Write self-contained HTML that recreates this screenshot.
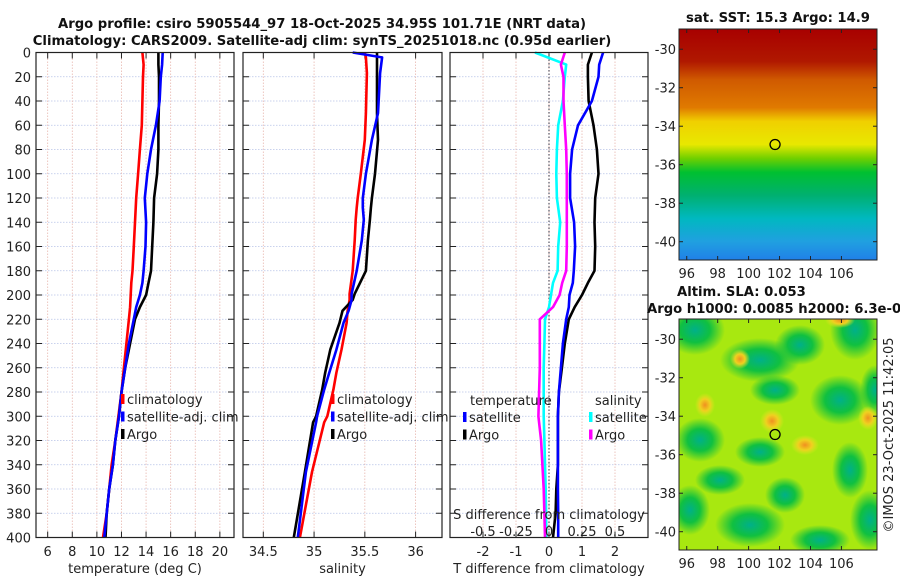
<!DOCTYPE html>
<html><head><meta charset="utf-8">
<style>
body{margin:0;background:#fff;}
svg{display:block;font-family:"DejaVu Sans","Liberation Sans",sans-serif;}
</style></head>
<body>
<svg id="c" width="900" height="580" xmlns="http://www.w3.org/2000/svg">
<defs>
<linearGradient id="sstg" x1="0" y1="0" x2="0" y2="1">
<stop offset="0" stop-color="#a80000"/><stop offset="0.14" stop-color="#b01800"/>
<stop offset="0.22" stop-color="#d05a00"/><stop offset="0.34" stop-color="#e07a00"/>
<stop offset="0.40" stop-color="#f0d000"/><stop offset="0.50" stop-color="#e8e800"/>
<stop offset="0.56" stop-color="#70d000"/><stop offset="0.62" stop-color="#00c030"/>
<stop offset="0.72" stop-color="#00b070"/><stop offset="0.82" stop-color="#00b8c0"/>
<stop offset="0.92" stop-color="#20a0e0"/><stop offset="1" stop-color="#2080e8"/>
</linearGradient>
<radialGradient id="gb"><stop offset="0" stop-color="#00b08a"/><stop offset="0.5" stop-color="#10c040"/><stop offset="1" stop-color="#10c040" stop-opacity="0"/></radialGradient>
<radialGradient id="ob"><stop offset="0" stop-color="#f09020"/><stop offset="0.5" stop-color="#f0d020"/><stop offset="1" stop-color="#e0e820" stop-opacity="0"/></radialGradient>
</defs>
<g id="root"></g>
</svg>
<script>
// ---- data ----
const depths = [0,10,20,40,60,80,100,120,140,160,180,190,200,210,220,240,260,280,300,320,340,360,380,400];
const tempClim = [13.7,13.8,13.75,13.7,13.65,13.5,13.35,13.2,13.1,13.0,12.9,12.8,12.75,12.7,12.6,12.4,12.2,12.0,11.75,11.5,11.2,11.0,10.8,10.5];
const tempSat  = [15.35,15.3,15.2,15.1,14.8,14.4,14.1,13.9,14.0,13.95,13.8,13.7,13.5,13.2,13.0,12.6,12.3,12.0,11.8,11.5,11.3,11.0,10.8,10.6];
const tempArgo = [15.0,15.0,15.05,15.05,15.0,15.0,14.9,14.65,14.6,14.5,14.4,14.2,14.0,13.5,13.1,12.7,12.3,12.0,11.8,11.5,11.3,11.0,10.8,10.7];
const salDepths = [0,4,17,50,72,100,120,128,138,155,180,199,204,213,223,245,264,278,300,305,346,400];
const salClim = [35.50,35.51,35.52,35.51,35.50,35.46,35.43,35.42,35.41,35.40,35.38,35.35,35.35,35.33,35.32,35.27,35.22,35.19,35.13,35.10,34.98,34.86];
const salSat  = [35.38,35.67,35.65,35.63,35.57,35.51,35.48,35.48,35.49,35.47,35.42,35.37,35.37,35.34,35.29,35.22,35.15,35.10,35.03,35.02,34.92,34.84];
const salArgo = [35.62,35.62,35.62,35.62,35.63,35.60,35.57,35.56,35.55,35.53,35.51,35.40,35.38,35.28,35.25,35.16,35.11,35.08,35.02,34.99,34.91,34.80];
const tdSat  = [1.64,1.52,1.5,1.3,0.88,0.70,0.64,0.64,0.76,0.79,0.75,0.72,0.62,0.60,0.52,0.42,0.36,0.30,0.27,0.27,0.27,0.27,0.28,0.28];
const tdArgo = [1.30,1.18,1.18,1.20,1.35,1.45,1.50,1.40,1.38,1.40,1.38,1.18,1.00,0.78,0.60,0.48,0.39,0.30,0.27,0.27,0.27,0.22,0.20,0.12];
const sdSat  = [-0.106,0.13,0.12,0.105,0.07,0.06,0.055,0.06,0.085,0.07,0.065,0.03,0.015,0.0,-0.03,-0.035,-0.04,-0.04,-0.04,-0.035,-0.03,-0.025,-0.022,-0.02];
const sdArgo = [0.12,0.09,0.11,0.11,0.12,0.13,0.135,0.135,0.135,0.135,0.13,0.10,0.08,0.03,-0.07,-0.07,-0.07,-0.075,-0.08,-0.06,-0.05,-0.04,-0.035,-0.03];
const yTicks = [0,20,40,60,80,100,120,140,160,180,200,220,240,260,280,300,320,340,360,380,400];
const tTicks = [6,8,10,12,14,16,18,20];
const sTicks = [34.5,35,35.5,36];
const dTicks = [-2,-1,0,1,2];
const sdTicks = [-0.5,-0.25,0,0.25,0.5];
const sdTickLabels = ['-0.5','-0.25','0','0.25','0.5'];
const latTicks = [-30,-32,-34,-36,-38,-40];
const lonTicks = [96,98,100,102,104,106];

const NS='http://www.w3.org/2000/svg';
const root=document.getElementById('root');
function el(tag,attrs,parent,text){const e=document.createElementNS(NS,tag);for(const k in attrs)e.setAttribute(k,attrs[k]);if(text!==undefined)e.textContent=text;(parent||root).appendChild(e);return e;}

const Y0=52.5, Y1=537.5;
const yS=d=>Y0+(d/400)*(Y1-Y0);
function lin(d0,d1,r0,r1){return v=>r0+(v-d0)/(d1-d0)*(r1-r0);}

function panel(name,x0,x1,xs,xt,xtl,labelY,xlabel){
  const g=el('g',{});
  
  
  el('rect',{x:x0,y:Y0,width:x1-x0,height:Y1-Y0,fill:'#fff'},g);
  yTicks.forEach(t=>{el('line',{x1:x0,x2:x1,y1:yS(t),y2:yS(t),stroke:'#b8c4e8','stroke-width':0.8,'stroke-dasharray':'1.5,1.5'},g);
    el('line',{x1:x0,x2:x0+6,y1:yS(t),y2:yS(t),stroke:'#222'},g);el('line',{x1:x1-6,x2:x1,y1:yS(t),y2:yS(t),stroke:'#222'},g);
    if(labelY){const tl=el('text',{x:x0-5,y:yS(t)+5,'text-anchor':'end','font-size':13,fill:'#222'},g,String(t));}});
  xt.forEach((t,i)=>{const x=xs(t);el('line',{x1:x,x2:x,y1:Y0,y2:Y1,stroke:'#e8b8b0','stroke-width':0.8,'stroke-dasharray':'1.5,1.5'},g);
    el('line',{x1:x,x2:x,y1:Y0,y2:Y0+6,stroke:'#222'},g);el('line',{x1:x,x2:x,y1:Y1-6,y2:Y1,stroke:'#222'},g);
    const tl=el('text',{x:x,y:556,'text-anchor':'middle','font-size':13,fill:'#222'},g,xtl[i]);});
  const xl=el('text',{x:(x0+x1)/2,y:573,'text-anchor':'middle','font-size':13,fill:'#222'},g,xlabel);
  
  return g;
}
function line(g,name,xs,vals,ds,color){
  const p=vals.map((v,i)=>(i?'L':'M')+xs(v).toFixed(1)+','+yS(ds[i]).toFixed(1)).join('');
  const e=el('path',{d:p,fill:'none',stroke:color,'stroke-width':2.6,'stroke-linejoin':'round'},g);
  
}
function border(g,x0,x1){el('rect',{x:x0,y:Y0,width:x1-x0,height:Y1-Y0,fill:'none',stroke:'#222','stroke-width':1.2},g);}
function legend(g,x,y,items){items.forEach((it,i)=>{const yy=y+i*17.5;
  const m=el('rect',{x:x,y:yy-10,width:3.5,height:10,fill:it[1]},g);
  const t=el('text',{x:x+6,y:yy,'font-size':13,fill:'#222'},g,it[0]);});}

// Panel 1
const xT=lin(5.05,21.15,36,234);
const g1=panel('temperature-panel',36,234,xT,tTicks,tTicks.map(String),true,'temperature (deg C)');
line(g1,'temp-climatology-line',xT,tempClim,depths,'#ff0000');
line(g1,'temp-argo-line',xT,tempArgo,depths,'#000');
line(g1,'temp-satellite-line',xT,tempSat,depths,'#0000ff');
legend(g1,121,404,[['climatology','#ff0000'],['satellite-adj. clim','#0000ff'],['Argo','#000']]);
border(g1,36,234);

// Panel 2
const xS=lin(34.3,36.26,243,442);
const g2=panel('salinity-panel',243,442,xS,sTicks,['34.5','35','35.5','36'],false,'salinity');
line(g2,'sal-climatology-line',xS,salClim,salDepths,'#ff0000');
line(g2,'sal-argo-line',xS,salArgo,salDepths,'#000');
line(g2,'sal-satellite-line',xS,salSat,salDepths,'#0000ff');
legend(g2,331,404,[['climatology','#ff0000'],['satellite-adj. clim','#0000ff'],['Argo','#000']]);
border(g2,243,442);

// Panel 3
const xD=lin(-3,3,450,648);
const xSD=lin(-0.75,0.75,450,648);
const g3=panel('difference-panel',450,648,xD,dTicks,dTicks.map(String),false,'T difference from climatology');
el('line',{x1:xD(0),x2:xD(0),y1:Y0,y2:Y1,stroke:'#334','stroke-width':1,'stroke-dasharray':'1.5,2'},g3);
line(g3,'sdiff-satellite-line',xSD,sdSat,depths,'#00ffff');
line(g3,'sdiff-argo-line',xSD,sdArgo,depths,'#ff00ff');
line(g3,'tdiff-argo-line',xD,tdArgo,depths,'#000');
line(g3,'tdiff-satellite-line',xD,tdSat,depths,'#0000ff');
[['temperature',470,405,'start'],['salinity',595,405,'start']].forEach(h=>{const t=el('text',{x:h[1],y:h[2],'font-size':13,fill:'#222'},g3,h[0]);});
legend(g3,463,422,[['satellite','#0000ff'],['Argo','#000']]);
legend(g3,589,422,[['satellite','#00ffff'],['Argo','#ff00ff']]);
const sdt=el('text',{x:549,y:519,'text-anchor':'middle','font-size':13,fill:'#222'},g3,'S difference from climatology');

sdTicks.forEach((t,i)=>{const tl=el('text',{x:xSD(t),y:536,'text-anchor':'middle','font-size':13,fill:'#222'},g3,sdTickLabels[i]);});
border(g3,450,648);

// Titles
const t1=el('text',{x:322,y:28,'text-anchor':'middle','font-size':13.2,'font-weight':'bold',fill:'#111'},root,'Argo profile: csiro 5905544_97 18-Oct-2025 34.95S 101.71E (NRT data)');

const t2=el('text',{x:322,y:45,'text-anchor':'middle','font-size':13.2,'font-weight':'bold',fill:'#111'},root,'Climatology: CARS2009. Satellite-adj clim: synTS_20251018.nc (0.95d earlier)');


// Maps
function map(name,y0,y1,fillFn){
  const g=el('g',{});
  const x0=679,x1=877;
  const cp=el('clipPath',{id:name+'-clip'},g);el('rect',{x:x0,y:y0,width:x1-x0,height:y1-y0},cp);
  const inner=el('g',{'clip-path':'url(#'+name+'-clip)'},g);
  fillFn(inner,x0,y0,x1,y1);
  const lat=lin(-28.95,-40.95,y0,y1), lon=lin(95.5,108.3,x0,x1);
  latTicks.forEach(t=>{el('line',{x1:x0,x2:x0+4,y1:lat(t),y2:lat(t),stroke:'#222'},g);el('line',{x1:x1-4,x2:x1,y1:lat(t),y2:lat(t),stroke:'#222'},g);
    const tl=el('text',{x:x0-3,y:lat(t)+5,'text-anchor':'end','font-size':13,fill:'#222'},g,String(t));});
  lonTicks.forEach(t=>{el('line',{x1:lon(t),x2:lon(t),y1:y1-4,y2:y1,stroke:'#222'},g);el('line',{x1:lon(t),x2:lon(t),y1:y0,y2:y0+4,stroke:'#222'},g);
    const tl=el('text',{x:lon(t),y:y1+18,'text-anchor':'middle','font-size':13,fill:'#222'},g,String(t));});
  const mk=el('circle',{cx:lon(101.71),cy:lat(-34.95),r:5,fill:'none',stroke:'#000','stroke-width':1.3},g);
  
  el('rect',{x:x0,y:y0,width:x1-x0,height:y1-y0,fill:'none',stroke:'#222','stroke-width':1},g);
  return g;
}
map('sst-map',29,260,(g,x0,y0,x1,y1)=>{
  el('rect',{x:x0,y:y0,width:x1-x0,height:y1-y0,fill:'url(#sstg)'},g);
});
map('sla-map',319,550,(g,x0,y0,x1,y1)=>{
  el('rect',{x:x0,y:y0,width:x1-x0,height:y1-y0,fill:'#a8e810'},g);
  const blobs=[[695,330,30,25],[760,360,40,22],[800,345,25,20],[855,330,25,30],[775,390,25,15],[840,400,30,25],[700,440,25,22],[760,452,25,15],[850,470,18,28],[720,480,25,15],[690,510,20,25],[750,525,35,22],[785,495,20,18],[870,520,20,30],[820,540,30,15],[875,390,15,25]];
  blobs.forEach(b=>el('ellipse',{cx:b[0],cy:b[1],rx:b[2],ry:b[3],fill:'url(#gb)'},g));
  [[772,421,12,12],[740,359,10,10],[868,418,10,12],[805,445,14,10],[840,320,15,8],[705,405,10,12]].forEach(b=>el('ellipse',{cx:b[0],cy:b[1],rx:b[2],ry:b[3],fill:'url(#ob)'},g));
});
const mt=el('text',{x:778,y:22,'text-anchor':'middle','font-size':13.2,'font-weight':'bold',fill:'#111'},root,'sat. SST: 15.3 Argo: 14.9');

const m2=el('text',{x:677,y:296,'font-size':13.2,'font-weight':'bold',fill:'#111'},root,'Altim. SLA: 0.053');

const m3=el('text',{x:647,y:313,'font-size':13.2,'font-weight':'bold',fill:'#111'},root,'Argo h1000: 0.0085 h2000: 6.3e-0');

const cr=el('text',{x:0,y:0,'text-anchor':'middle','font-size':13,fill:'#222',transform:'translate(893,435) rotate(-90)'},root,'©IMOS 23-Oct-2025 11:42:05');

</script>
</body></html>
